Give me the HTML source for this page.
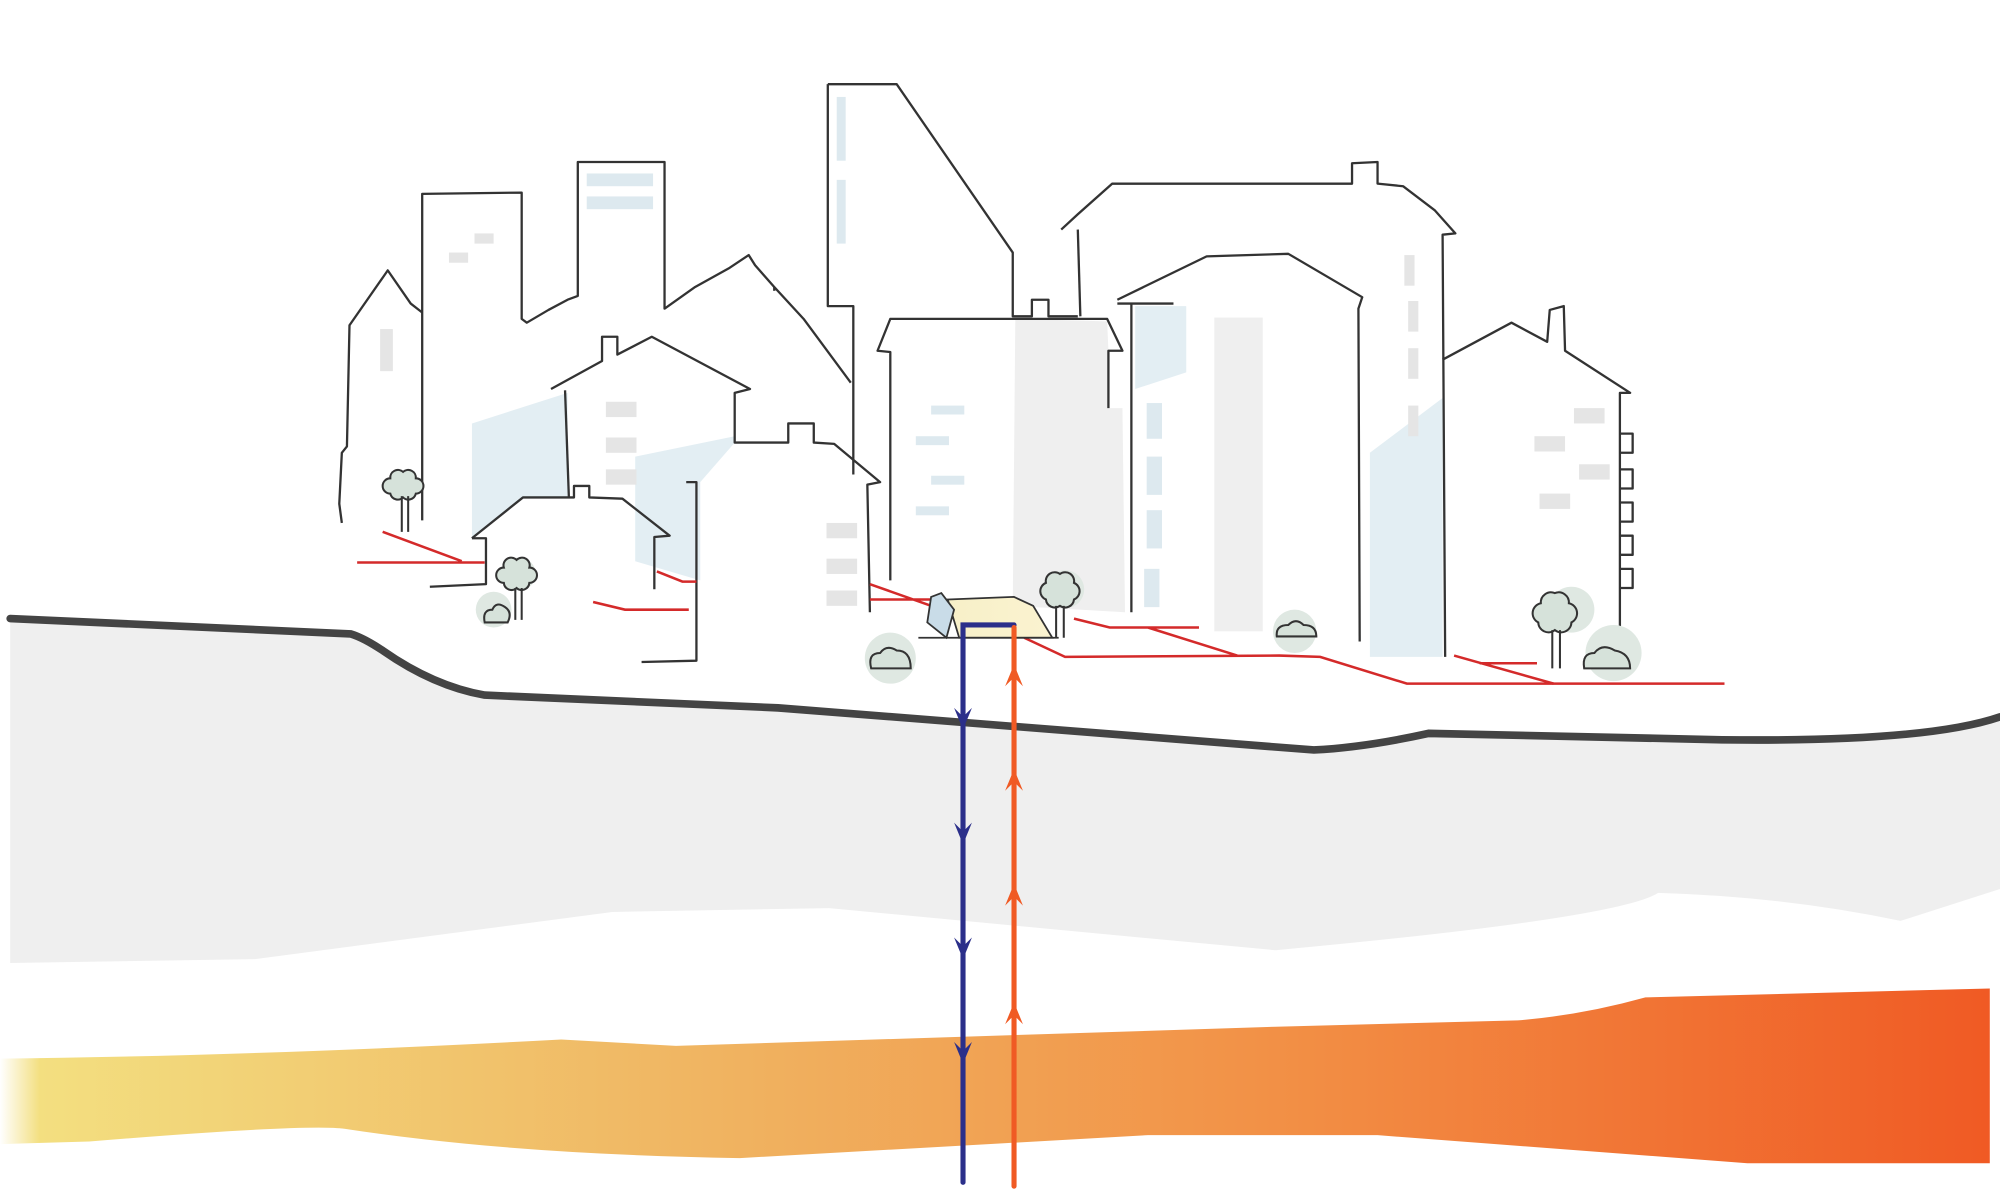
<!DOCTYPE html>
<html><head><meta charset="utf-8"><style>html,body{margin:0;padding:0;background:#fff;}svg{display:block}</style></head>
<body>
<svg width="2000" height="1190" viewBox="0 0 1568 933" preserveAspectRatio="none" xmlns="http://www.w3.org/2000/svg">
<defs>
<linearGradient id="hot" x1="0" x2="1" y1="0" y2="0">
<stop offset="0" stop-color="#fff"/>
<stop offset="0.02" stop-color="#f3df80"/>
<stop offset="0.35" stop-color="#f0b562"/>
<stop offset="0.65" stop-color="#f28f45"/>
<stop offset="1" stop-color="#f05a24"/>
</linearGradient>
<linearGradient id="pump" x1="0" x2="1"><stop offset="0" stop-color="#f7f0c8"/><stop offset="1" stop-color="#fbf3d0"/></linearGradient>
</defs>

<!-- ground band -->
<path d="M8,485 L275,497 Q285,500 300,510 Q340,538 380,545 L610,555 L1030,588 Q1070,586 1120,575 L1350,580 Q1510,582 1568,562 L1568,697 L1490,722 Q1400,703 1300,700 Q1270,720 1000,745 L650,712 L480,715 L200,752 L8,755 Z" fill="#efefef"/>
<path d="M8,485 L275,497 Q285,500 300,510 Q340,538 380,545 L610,555 L1030,588 Q1070,586 1120,575 L1350,580 Q1510,582 1568,562" fill="none" stroke="#444" stroke-width="6" stroke-linecap="round"/>

<!-- hot layer -->
<path d="M0,830 Q200,828 440,815 L530,820 L1000,805 L1190,800 Q1240,796 1290,782 L1560,775 L1560,912 L1370,912 L1080,890 L900,890 L580,908 Q400,905 270,885 Q240,881 70,895 L0,897 Z" fill="url(#hot)"/>

<!-- light blue panes -->
<g fill="#e3eef3">
<path d="M370,332 L445,308 L445,390 L410,390 L370,422 Z"/>
<path d="M498,358 L576,342 L576,347 L549,378 L549,455 L515,445 L498,440 Z"/>
<path d="M890,240 L930,240 L930,292 L890,305 Z"/>
<path d="M1074,355 L1131,312 L1131,515 L1074,515 Z"/>
</g>
<!-- grey panes -->
<g fill="#efefef">
<path d="M796,250 L868,252 L869,275 L869,320 L880,320 L882,480 L794,475 Z"/>
<rect x="952" y="249" width="38" height="246"/>
</g>
<!-- windows -->
<g fill="#e5e5e5">
<rect x="352" y="198" width="15" height="8"/><rect x="372" y="183" width="15" height="8"/>
<rect x="298" y="258" width="10" height="33"/>
<rect x="475" y="315" width="24" height="12"/><rect x="475" y="343" width="24" height="12"/><rect x="475" y="368" width="24" height="12"/>
<rect x="648" y="410" width="24" height="12"/><rect x="648" y="438" width="24" height="12"/><rect x="648" y="463" width="24" height="12"/>
<rect x="1234" y="320" width="24" height="12"/><rect x="1203" y="342" width="24" height="12"/><rect x="1238" y="364" width="24" height="12"/><rect x="1207" y="387" width="24" height="12"/>
<rect x="1101" y="200" width="8" height="24"/><rect x="1104" y="236" width="8" height="24"/><rect x="1104" y="273" width="8" height="24"/><rect x="1104" y="318" width="8" height="24"/>
</g>
<g fill="#dde9ef">
<rect x="460" y="136" width="52" height="10"/><rect x="460" y="154" width="52" height="10"/>
<rect x="656" y="76" width="7" height="50"/><rect x="656" y="141" width="7" height="50"/>
<rect x="730" y="318" width="26" height="7"/><rect x="718" y="342" width="26" height="7"/><rect x="730" y="373" width="26" height="7"/><rect x="718" y="397" width="26" height="7"/>
<rect x="899" y="316" width="12" height="28"/><rect x="899" y="358" width="12" height="30"/><rect x="899" y="400" width="12" height="30"/><rect x="897" y="446" width="12" height="30"/>
</g>

<!-- building outlines -->
<g fill="none" stroke="#333" stroke-width="1.8" stroke-linejoin="round">
<path d="M268,410 L266,395 L268,355 L272,350 L274,255 L304,212 L322,238 L331,245"/>
<path d="M331,408 L331,152 L409,151 L409,250 L413,253 L430,243 L445,235 L453,232 L453,127 L521,127 L521,242 L545,225 L572,210 L587,200 L592,208 L607,225 L630,250 L667,300"/>
<path d="M607,225 L607,228"/>
<path d="M649,66 L703,66 L794,198 L794,248 L809,248 L809,235 L822,235 L822,248 L845,248"/>
<path d="M649,66 L649,240 L669,240 L669,372"/>
<path d="M698,455 L698,276 L688,275 L698,250 L868,250 L880,275 L869,275 L869,320"/>
<path d="M832,180 L845,168 L872,144 L1060,144 L1060,128 L1080,127 L1080,144 L1100,146 L1125,165 L1141,183 L1131,184 L1133,515"/>
<path d="M845,180 L847,248"/>
<path d="M876,235 L946,201 L1010,199 L1068,233 L1065,242 L1066,503"/>
<path d="M876,238 L920,238"/>
<path d="M887,238 L887,480"/>
<path d="M1131,282 L1185,253 L1213,268 L1215,243 L1226,240 L1227,275 L1278,308 L1270,308 L1270,512"/>
<path d="M1270,340 L1280,340 L1280,355 L1270,355 M1270,368 L1280,368 L1280,383 L1270,383 M1270,394 L1280,394 L1280,409 L1270,409 M1270,420 L1280,420 L1280,435 L1270,435 M1270,446 L1280,446 L1280,461 L1270,461"/>
<path d="M432,305 L472,283 L472,264 L484,264 L484,278 L511,264 L588,305 L576,308 L576,347 L618,347 L618,332 L638,332 L638,347 L654,348 L690,378 L680,380 L682,480"/>
<path d="M443,306 L446,390"/>
<path d="M538,378 L546,378 L546,518 L503,519"/>
<path d="M370,422 L410,390 L450,390 L450,381 L462,381 L462,390 L488,391 L525,420 L513,421 L513,462"/>
<path d="M370,422 L381,422 L381,458 L337,460"/>
</g>

<!-- red pipes -->
<g fill="none" stroke="#d42a2a" stroke-width="2">
<path d="M300,417 L362,440 M280,441 L380,441"/>
<path d="M465,472 L490,478 L540,478"/>
<path d="M515,448 L535,456 L546,456"/>
<path d="M682,458 L730,475 M682,470 L730,470"/>
<path d="M803,500 L835,515 L1003,514 L1035,515 L1103,536 L1352,536"/>
<path d="M842,485 L870,492 L940,492 M900,492 L970,514"/>
<path d="M1140,514 L1218,536 M1160,520 L1205,520"/>
</g>

<!-- trees & bushes -->
<g stroke="#333" stroke-width="1.6" fill="#d6e2da">
<circle cx="387" cy="478" r="14" fill="#dfe8e2" stroke="none"/>
<circle cx="407" cy="450" r="13" fill="#dfe8e2" stroke="none"/>
<circle cx="1232" cy="478" r="18" fill="#dfe8e2" stroke="none"/>
<circle cx="1265" cy="512" r="22" fill="#dfe8e2" stroke="none"/>
<circle cx="698" cy="516" r="20" fill="#dfe8e2" stroke="none"/>
<circle cx="1015" cy="495" r="17" fill="#dfe8e2" stroke="none"/>
<circle cx="835" cy="462" r="15" fill="#dfe8e2" stroke="none"/>
<path d="M306,375 a6,6 0 0 1 10,-5 a6,6 0 0 1 10,5 a6,6 0 0 1 0,12 a6,6 0 0 1 -10,3 a6,6 0 0 1 -10,-3 a6,6 0 0 1 0,-12 Z"/>
<path d="M315,389 L315,417 M320,389 L320,417" fill="none"/>
<path d="M395,445 a6,6 0 0 1 10,-6 a6,6 0 0 1 10,6 a6,6 0 0 1 0,12 a6,6 0 0 1 -10,4 a6,6 0 0 1 -10,-4 a6,6 0 0 1 0,-12 Z"/>
<path d="M404,461 L404,486 M409,461 L409,486" fill="none"/>
<path d="M820,457 a7,7 0 0 1 11,-7 a7,7 0 0 1 11,7 a7,7 0 0 1 0,13 a7,7 0 0 1 -11,5 a7,7 0 0 1 -11,-5 a7,7 0 0 1 0,-13 Z"/>
<path d="M828,475 L828,500 M834,475 L834,500" fill="none"/>
<path d="M1208,473 a8,8 0 0 1 11,-8 a8,8 0 0 1 11,8 a8,8 0 0 1 2,15 a8,8 0 0 1 -13,6 a8,8 0 0 1 -13,-6 a8,8 0 0 1 2,-15 Z"/>
<path d="M1217,494 L1217,524 M1223,494 L1223,524" fill="none"/>
<path d="M380,488 Q378,478 386,478 Q389,471 396,476 Q402,480 398,488 Z"/>
<path d="M683,524 Q680,512 690,512 Q695,505 703,510 Q714,510 714,524 Z"/>
<path d="M1001,499 Q1000,490 1010,490 Q1016,484 1022,490 Q1032,490 1032,499 Z"/>
<path d="M1242,524 Q1240,512 1250,512 Q1256,504 1266,510 Q1278,512 1278,524 Z"/>
</g>

<!-- pump house -->
<g stroke="#333" stroke-width="1.4">
<path d="M743,470 L795,468 L810,475 L825,500 L752,500 Z" fill="url(#pump)"/>
<path d="M730,468 L738,465 L748,478 L742,500 L727,488 Z" fill="#c9dce8"/>
<path d="M720,500 L830,500" fill="none"/>
</g>

<!-- heat pipes -->
<g fill="none" stroke-width="4" stroke-linecap="round">
<path d="M755,927 L755,490 L795,490" stroke="#2b2f8a"/>
<path d="M795,930 L795,492" stroke="#f05a24"/>
</g>
<g fill="#2b2f8a">
<path d="M748,555 L755,572 L762,555 L755,562 Z"/>
<path d="M748,645 L755,662 L762,645 L755,652 Z"/>
<path d="M748,735 L755,752 L762,735 L755,742 Z"/>
<path d="M748,817 L755,834 L762,817 L755,824 Z"/>
</g>
<g fill="#f05a24">
<path d="M788,538 L795,521 L802,538 L795,531 Z"/>
<path d="M788,620 L795,603 L802,620 L795,613 Z"/>
<path d="M788,710 L795,693 L802,710 L795,703 Z"/>
<path d="M788,803 L795,786 L802,803 L795,796 Z"/>
</g>
</svg>
</body></html>
